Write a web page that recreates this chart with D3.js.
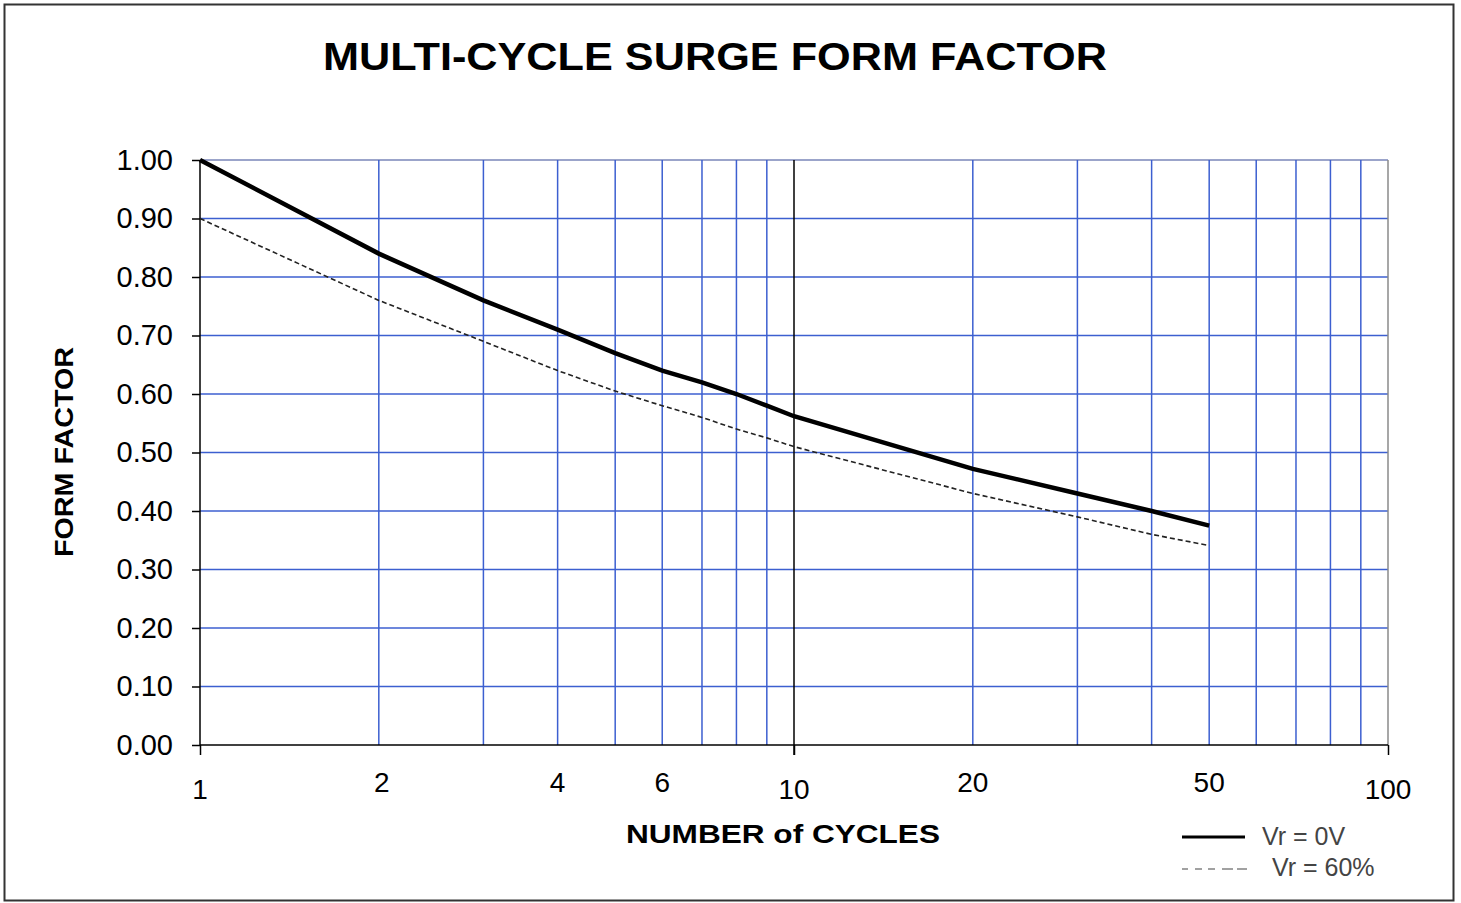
<!DOCTYPE html>
<html>
<head>
<meta charset="utf-8">
<script src="https://cdn.jsdelivr.net/npm/d3@7"></script>
<style>
  body { margin: 0; background: #fff; }
  svg { display: block; font-family: "Liberation Sans", Arial, sans-serif; }
</style>
</head>
<body>
<div id="chart"></div>
<script>
// data
var cycles = [1, 2, 3, 4, 5, 6, 7, 8, 9, 10, 20, 30, 40, 50];
var vr0 = [1.00, 0.84, 0.76, 0.71, 0.67, 0.64, 0.62, 0.60, 0.58, 0.562, 0.472, 0.43, 0.40, 0.375];
var vr60 = [0.90, 0.76, 0.69, 0.64, 0.605, 0.58, 0.56, 0.54, 0.525, 0.51, 0.43, 0.39, 0.36, 0.341];
var yTicks = [0, 0.1, 0.2, 0.3, 0.4, 0.5, 0.6, 0.7, 0.8, 0.9, 1.0];
var xGrid = [2, 3, 4, 5, 6, 7, 8, 9, 20, 30, 40, 50, 60, 70, 80, 90];
var xMajor = [1, 10, 100];
var xLabels = [1, 2, 4, 6, 10, 20, 50, 100];

var width = 1461;
var height = 903;
var plotLeft = 200, plotRight = 1388, plotTop = 160, plotBottom = 745;
var gridColor = "#3c5fd0";

var svg = d3.select("#chart")
    .append("svg")
    .attr("width", width)
    .attr("height", height);

// outer frame
svg.append("rect")
    .attr("x", 4.5).attr("y", 4.5)
    .attr("width", 1449).attr("height", 896)
    .attr("fill", "#fff")
    .attr("stroke", "#333")
    .attr("stroke-width", 2);

var x = d3.scaleLog().domain([1, 100]).range([plotLeft, plotRight]);
var y = d3.scaleLinear().domain([0, 1]).range([plotBottom, plotTop]);

// horizontal grid
svg.selectAll(".hgrid")
    .data(yTicks.filter(d => d > 0))
    .enter()
    .append("line")
    .attr("class", "hgrid")
    .attr("x1", plotLeft).attr("x2", plotRight)
    .attr("y1", d => y(d)).attr("y2", d => y(d))
    .attr("stroke", d => d === 1 ? "#7a86b8" : gridColor)
    .attr("stroke-width", 1.5);

// vertical grid
svg.selectAll(".vgrid")
    .data(xGrid)
    .enter()
    .append("line")
    .attr("class", "vgrid")
    .attr("x1", d => x(d)).attr("x2", d => x(d))
    .attr("y1", plotTop).attr("y2", plotBottom)
    .attr("stroke", gridColor)
    .attr("stroke-width", 1.5);

// right border of plot area
svg.append("line")
    .attr("x1", plotRight).attr("x2", plotRight)
    .attr("y1", plotTop).attr("y2", plotBottom)
    .attr("stroke", "#8a8a8a")
    .attr("stroke-width", 1.5);

// black line at 10
svg.append("line")
    .attr("x1", x(10)).attr("x2", x(10))
    .attr("y1", plotTop).attr("y2", plotBottom + 10)
    .attr("stroke", "#000")
    .attr("stroke-width", 1.5);

// axes
var yAxis = d3.axisLeft(y)
    .tickValues(yTicks)
    .tickSize(8)
    .tickPadding(19)
    .tickFormat(d3.format(".2f"));

var yg = svg.append("g")
    .attr("transform", "translate(" + plotLeft + ",0)")
    .call(yAxis);
yg.select(".domain").remove();
yg.append("line")
    .attr("x1", 0).attr("x2", 0)
    .attr("y1", plotTop).attr("y2", plotBottom)
    .attr("stroke", "#000").attr("stroke-width", 1.5);
yg.selectAll(".tick line").attr("stroke", "#000").attr("stroke-width", 1.5);
yg.selectAll(".tick text")
    .attr("font-size", 29)
    .attr("fill", "#000")
    .attr("font-family", "Liberation Sans, Arial, sans-serif");

var xAxis = d3.axisBottom(x)
    .tickValues(xMajor)
    .tickSize(10)
    .tickFormat("");

var xg = svg.append("g")
    .attr("transform", "translate(0," + plotBottom + ")")
    .call(xAxis);
xg.select(".domain").remove();
xg.append("line")
    .attr("x1", plotLeft).attr("x2", plotRight)
    .attr("y1", 0).attr("y2", 0)
    .attr("stroke", "#000").attr("stroke-width", 1.5);
xg.selectAll(".tick line").attr("stroke", "#000").attr("stroke-width", 1.5);

// x labels (major ones sit a little lower)
svg.selectAll(".xlabel")
    .data(xLabels)
    .enter()
    .append("text")
    .attr("class", "xlabel")
    .attr("x", d => x(d) + (d === 2 ? 3 : 0))
    .attr("y", d => xMajor.indexOf(d) >= 0 ? 799 : 792)
    .attr("text-anchor", "middle")
    .attr("font-size", 28)
    .attr("fill", "#000")
    .text(d => d);

// lines
var line = d3.line()
    .x((d, i) => x(cycles[i]))
    .y(d => y(d));

svg.append("path")
    .datum(vr60)
    .attr("d", line)
    .attr("fill", "none")
    .attr("stroke", "#222")
    .attr("stroke-width", 1.6)
    .attr("stroke-dasharray", "5,3");

svg.append("path")
    .datum(vr0)
    .attr("d", line)
    .attr("fill", "none")
    .attr("stroke", "#000")
    .attr("stroke-width", 4.5);

// titles
svg.append("text")
    .attr("x", 715)
    .attr("y", 70)
    .attr("text-anchor", "middle")
    .attr("font-size", 38)
    .attr("font-weight", "bold")
    .attr("textLength", 784)
    .attr("lengthAdjust", "spacingAndGlyphs")
    .text("MULTI-CYCLE SURGE FORM FACTOR");

svg.append("text")
    .attr("x", 783)
    .attr("y", 843)
    .attr("text-anchor", "middle")
    .attr("font-size", 26)
    .attr("font-weight", "bold")
    .attr("textLength", 314)
    .attr("lengthAdjust", "spacingAndGlyphs")
    .text("NUMBER of CYCLES");

svg.append("text")
    .attr("transform", "translate(73,452) rotate(-90)")
    .attr("text-anchor", "middle")
    .attr("font-size", 26)
    .attr("font-weight", "bold")
    .attr("textLength", 210)
    .attr("lengthAdjust", "spacingAndGlyphs")
    .text("FORM FACTOR");

// legend
var legend = svg.append("g");
legend.append("line")
    .attr("x1", 1182).attr("x2", 1245)
    .attr("y1", 837).attr("y2", 837)
    .attr("stroke", "#000").attr("stroke-width", 3);
legend.append("text")
    .attr("x", 1262).attr("y", 845)
    .attr("font-size", 25)
    .attr("fill", "#444")
    .text("Vr = 0V");
legend.append("line")
    .attr("x1", 1182).attr("x2", 1247)
    .attr("y1", 869).attr("y2", 869)
    .attr("stroke", "#444").attr("stroke-width", 1.2)
    .attr("stroke-dasharray", "6,7,7,6,7,7,11,4,10");
legend.append("text")
    .attr("x", 1272).attr("y", 876)
    .attr("font-size", 25)
    .attr("fill", "#444")
    .text("Vr = 60%");
</script>
</body>
</html>
